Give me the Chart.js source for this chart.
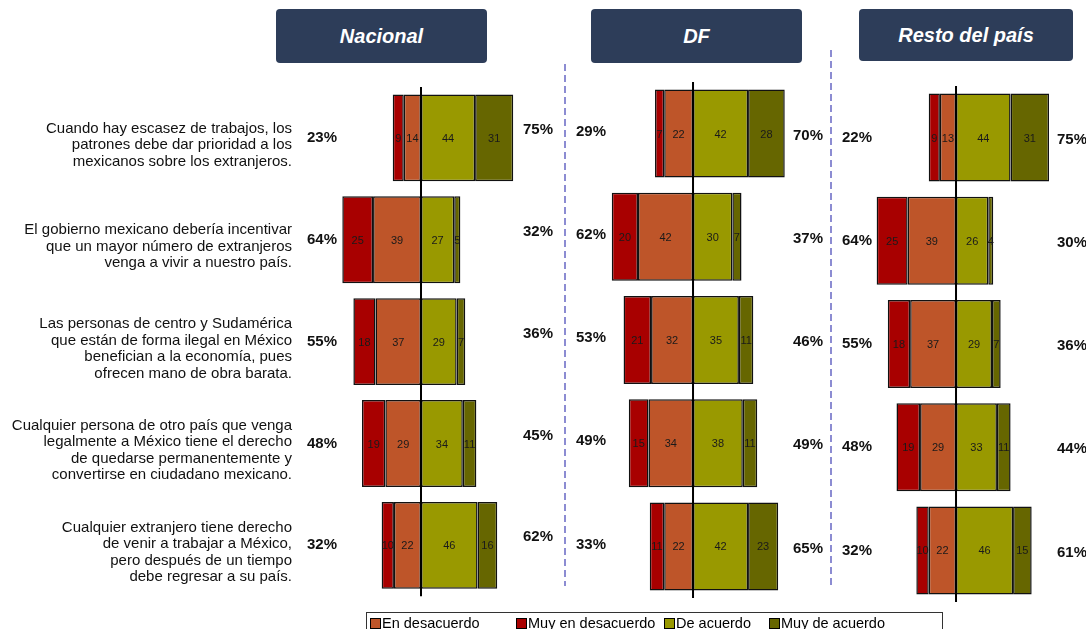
<!DOCTYPE html>
<html><head><meta charset="utf-8">
<script src="https://cdn.jsdelivr.net/npm/chart.js@4.4.1/dist/chart.umd.min.js"></script>
<style>
html,body{margin:0;padding:0;background:#fff;}
body{width:1086px;height:629px;overflow:hidden;position:relative;font-family:"Liberation Sans",Arial,sans-serif;}
.hdr{position:absolute;background:#2D3D59;color:#fff;font-weight:bold;font-style:italic;font-size:20px;display:flex;align-items:center;justify-content:center;border-radius:4px;}
.cv{position:absolute;top:0;}
.dash{position:absolute;width:2px;background:repeating-linear-gradient(to bottom,#8C8CD2 0 7px,transparent 7px 11px);}
.legend{position:absolute;left:366px;top:612px;width:577px;height:22px;border:1px solid #333;box-sizing:border-box;}
.li{position:absolute;top:2px;font-size:14.5px;color:#000;white-space:nowrap;line-height:16px;}
.li span{display:inline-block;width:11px;height:11px;border:1px solid #000;box-sizing:border-box;vertical-align:-1px;margin-right:1px;}
</style>
</head>
<body>
<div class="hdr" style="left:276px;top:9px;width:211px;height:54px;">Nacional</div>
<div class="hdr" style="left:591px;top:9px;width:211px;height:54px;">DF</div>
<div class="hdr" style="left:859px;top:9px;width:214px;height:52px;">Resto del país</div>
<div class="dash" style="left:564px;top:64px;height:522px;"></div>
<div class="dash" style="left:830px;top:50px;height:536px;"></div>
<canvas id="c1" class="cv" style="left:0px" width="565" height="629"></canvas>
<canvas id="c2" class="cv" style="left:565px" width="266" height="629"></canvas>
<canvas id="c3" class="cv" style="left:831px" width="255" height="629"></canvas>
<div class="legend" id="legend"></div>
<script>
// ---------- data ----------
const categories = [
  ["Cuando hay escasez de trabajos, los", "patrones debe dar prioridad a los", "mexicanos sobre los extranjeros."],
  ["El gobierno mexicano debería incentivar", "que un mayor número de extranjeros", "venga a vivir a nuestro país."],
  ["Las personas de centro y Sudamérica", "que están de forma ilegal en México", "benefician a la economía, pues", "ofrecen mano de obra barata."],
  ["Cualquier persona de otro país que venga", "legalmente a México tiene el derecho", "de quedarse permanentemente y", "convertirse en ciudadano mexicano."],
  ["Cualquier extranjero tiene derecho", "de venir a trabajar a México,", "pero después de un tiempo", "debe regresar a su país."]
];
const seriesNames = ["En desacuerdo", "Muy en desacuerdo", "De acuerdo", "Muy de acuerdo"];
const seriesColors = ["#BE5529", "#A80000", "#999900", "#666600"];

const nacEnDesacuerdo    = [14, 39, 37, 29, 22];
const nacMuyEnDesacuerdo = [9, 25, 18, 19, 10];
const nacDeAcuerdo       = [44, 27, 29, 34, 46];
const nacMuyDeAcuerdo    = [31, 5, 7, 11, 16];
const nacTotalDesacuerdo = [23, 64, 55, 48, 32];
const nacTotalAcuerdo    = [75, 32, 36, 45, 62];

const dfEnDesacuerdo    = [22, 42, 32, 34, 22];
const dfMuyEnDesacuerdo = [7, 20, 21, 15, 11];
const dfDeAcuerdo       = [42, 30, 35, 38, 42];
const dfMuyDeAcuerdo    = [28, 7, 11, 11, 23];
const dfTotalDesacuerdo = [29, 62, 53, 49, 33];
const dfTotalAcuerdo    = [70, 37, 46, 49, 65];

const restoEnDesacuerdo    = [13, 39, 37, 29, 22];
const restoMuyEnDesacuerdo = [9, 25, 18, 19, 10];
const restoDeAcuerdo       = [44, 26, 29, 33, 46];
const restoMuyDeAcuerdo    = [31, 4, 7, 11, 15];
const restoTotalDesacuerdo = [22, 64, 55, 48, 32];
const restoTotalAcuerdo    = [75, 30, 36, 44, 61];

// ---------- plugin ----------
const divergingPlugin = {
  id: 'diverging',
  afterDatasetsDraw(chart) {
    const o = chart.options.plugins.diverging;
    const ctx = chart.ctx;
    const xs = chart.scales.x, ys = chart.scales.y;
    const x0 = xs.getPixelForValue(0);
    ctx.save();
    // segment values
    ctx.font = '11px "Liberation Sans", Arial, sans-serif';
    ctx.fillStyle = '#1a1a1a';
    ctx.textAlign = 'center';
    ctx.textBaseline = 'middle';
    chart.data.datasets.forEach((ds, di) => {
      const meta = chart.getDatasetMeta(di);
      meta.data.forEach((el, i) => {
        const v = Math.abs(ds.data[i]);
        ctx.fillText(String(v), (el.x + el.base) / 2, el.y + 1);
      });
    });
    // zero line
    ctx.strokeStyle = '#000';
    ctx.lineWidth = 2;
    ctx.beginPath();
    ctx.moveTo(x0, chart.chartArea.top);
    ctx.lineTo(x0, chart.chartArea.bottom);
    ctx.stroke();
    // totals
    ctx.font = 'bold 15px "Liberation Sans", Arial, sans-serif';
    ctx.fillStyle = '#111';
    ctx.textAlign = 'left';
    o.left.forEach((t, i) => {
      const y = ys.getPixelForValue(i);
      ctx.fillText(t + '%', x0 + o.leftDx, y + o.leftDy);
      ctx.fillText(o.right[i] + '%', x0 + o.rightDx, y + o.rightDy);
    });
    ctx.restore();
  }
};

function makeChart(id, enDes, muyEnDes, deAc, muyDeAc, totDes, totAc, cfg) {
  const values = [enDes.map(v => -v), muyEnDes.map(v => -v), deAc, muyDeAc];
  return new Chart(document.getElementById(id), {
    type: 'bar',
    data: {
      labels: categories,
      datasets: values.map((d, k) => ({
        label: seriesNames[k],
        data: d,
        backgroundColor: seriesColors[k],
        borderColor: '#111',
        borderWidth: 1.5,
        borderSkipped: false,
        barPercentage: 0.853,
        categoryPercentage: 1
      }))
    },
    options: {
      indexAxis: 'y',
      responsive: false,
      animation: false,
      layout: { padding: { top: cfg.top, bottom: cfg.bottom, left: 0, right: 0 } },
      scales: {
        x: { stacked: true, min: cfg.min, max: cfg.max, display: false },
        y: {
          stacked: true,
          display: cfg.showLabels,
          grid: { display: false, drawTicks: false },
          border: { display: false },
          ticks: {
            padding: 8,
            labelOffset: 7,
            color: '#111',
            font: { family: '"Liberation Sans", Arial, sans-serif', size: 15, lineHeight: 1.1 }
          },
          afterFit: cfg.showLabels ? (s) => { s.width = cfg.axisWidth; } : undefined
        }
      },
      plugins: {
        legend: { display: false },
        tooltip: { enabled: false },
        diverging: { left: totDes, right: totAc, leftDx: cfg.leftDx, leftDy: cfg.leftDy, rightDx: cfg.rightDx, rightDy: cfg.rightDy }
      }
    },
    plugins: [divergingPlugin]
  });
}

makeChart('c1', nacEnDesacuerdo, nacMuyEnDesacuerdo, nacDeAcuerdo, nacMuyDeAcuerdo, nacTotalDesacuerdo, nacTotalAcuerdo,
  { top: 87, bottom: 26, min: -98.4, max: 117.1, showLabels: true, axisWidth: 300, leftDx: -114, leftDy: 0, rightDx: 102, rightDy: -8 });
makeChart('c2', dfEnDesacuerdo, dfMuyEnDesacuerdo, dfDeAcuerdo, dfMuyDeAcuerdo, dfTotalDesacuerdo, dfTotalAcuerdo,
  { top: 82, bottom: 31, min: -97.7, max: 105.3, showLabels: false, leftDx: -117, leftDy: -2, rightDx: 100, rightDy: 2 });
makeChart('c3', restoEnDesacuerdo, restoMuyEnDesacuerdo, restoDeAcuerdo, restoMuyDeAcuerdo, restoTotalDesacuerdo, restoTotalAcuerdo,
  { top: 86, bottom: 27, min: -100.8, max: 104.8, showLabels: false, leftDx: -114, leftDy: 0, rightDx: 101, rightDy: 2 });

// legend (HTML)
const legendX = [370, 516, 664, 769];
const lg = document.getElementById('legend');
seriesNames.forEach((n, k) => {
  const d = document.createElement('div');
  d.className = 'li';
  d.style.left = (legendX[k] - 366 - 1) + 'px';
  d.innerHTML = '<span style="background:' + seriesColors[k] + '"></span>' + n;
  lg.appendChild(d);
});
</script>
</body></html>
